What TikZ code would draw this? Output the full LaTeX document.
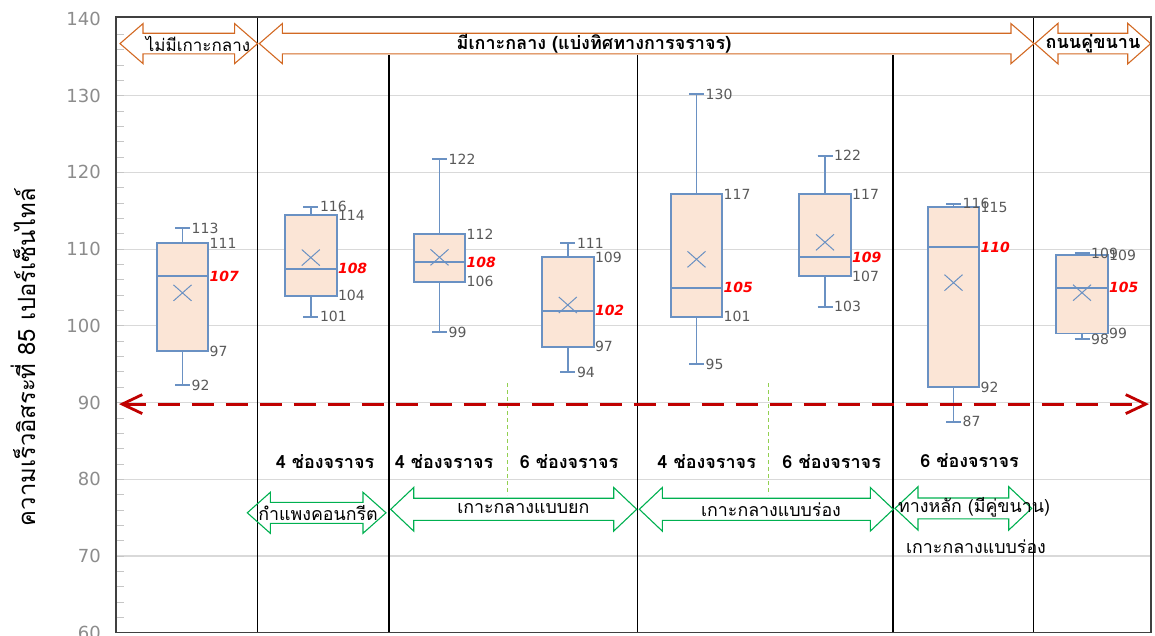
\documentclass[tikz,border=0pt]{standalone}
\usepackage{fontspec}
\setmainfont{DejaVu Sans}
\newfontfamily\thaifont[Script=Thai]{Loma}
\usetikzlibrary{arrows.meta}

\definecolor{boxpeach}{RGB}{251,229,214}
\definecolor{boxblue}{RGB}{106,145,195}
\definecolor{labgray}{RGB}{89,89,89}
\definecolor{tickgray}{RGB}{140,140,140}
\definecolor{gridgray}{RGB}{217,217,217}
\definecolor{framegray}{RGB}{64,64,64}
\definecolor{limitred}{RGB}{192,0,0}
\definecolor{zoneorange}{RGB}{210,105,35}
\definecolor{zonegreen}{RGB}{0,176,80}
\definecolor{splitgreen}{RGB}{146,208,80}

% two-headed block arrow: [style]{left tip x}{right tip x}{centre y}{shaft half}{head half}
\newcommand{\blockarrow}[6][]{%
  \draw[#1] (#2,#4) -- ++(23,-#6) -- ++(0,#6-#5) -- (#3-23,#4-#5) -- ++(0,#5-#6) -- (#3,#4)
    -- ++(-23,#6) -- ++(0,#5-#6) -- (#2+23,#4+#5) -- ++(0,#6-#5) -- cycle;}

\begin{document}
\begin{tikzpicture}[x=1pt, y=-1pt,
    sep/.style={black, line width=1.1pt},
    zone/.style={draw=zoneorange, line width=1.1pt},
    island/.style={draw=zonegreen, line width=1.1pt},
    zonetext/.style={font=\thaifont\fontsize{17.8}{18}\selectfont, inner sep=0pt},
    lanetext/.style={font=\thaifont\bfseries\fontsize{18}{18}\selectfont, inner sep=0pt},
    boxbody/.style={fill=boxpeach, draw=boxblue, line width=1.8pt},
    whisker/.style={draw=boxblue, line width=1.8pt},
    meanmark/.style={draw=boxblue, line width=1pt},
    vallabel/.style={font=\fontsize{14}{14}\selectfont, text=labgray, inner sep=0pt, anchor=west},
    medlabel/.style={vallabel, text=red, font=\fontsize{14}{14}\selectfont\bfseries\itshape},
    ticklabel/.style={font=\fontsize{18}{18}\selectfont, text=tickgray, anchor=east, inner sep=0pt}
]
\useasboundingbox (0,0) rectangle (1155,636);

% value axis: y in km/h
\begin{scope}[y=7.672pt, yshift=-1093.06pt]
\foreach \v in {70,80,...,130}
  \draw[gridgray, line width=1.2pt] (116,\v) -- (1151,\v);
\foreach \v in {62,64,...,138}
  \draw[gray!45, line width=0.8pt] (116,\v) -- (124,\v);
\foreach \v in {60,70,...,140}
  \node[ticklabel] (t\v) at (101,\v) {\v};
\end{scope}

% section dividers
\draw[sep] (257.7,17) -- (257.7,633);
\draw[sep] (389,55) -- (389,633);
\draw[sep] (637.3,55) -- (637.3,633);
\draw[sep] (893,55) -- (893,633);
\draw[sep] (1033.7,17) -- (1033.7,633);
\draw[splitgreen, line width=0.9pt, dash pattern=on 4pt off 3pt] (507.7,383) -- (507.7,495);
\draw[splitgreen, line width=0.9pt, dash pattern=on 4pt off 3pt] (768,383) -- (768,495);

\begin{scope}[y=7.672pt, yshift=-1093.06pt]
\foreach \n/\x/\lo/\qa/\md/\qb/\hi/\mn/\tlo/\tqa/\tmd/\tqb/\thi in {
    1/182.5/92.29/96.72/106.5/110.76/112.72/104.3/92/97/107/111/113,
    2/310.8/101.2/103.93/107.45/114.45/115.53/108.9/101/104/108/114/116,
    3/439.5/99.2/105.76/108.28/111.97/121.71/108.93/99/106/108/112/122,
    4/567.8/93.95/97.28/101.98/108.93/110.76/102.72/94/97/102/109/111,
    5/696.5/94.99/101.2/104.97/117.19/130.22/108.67/95/101/105/117/130,
    6/825/102.5/106.5/108.93/117.19/122.18/110.89/103/107/109/117/122,
    7/953.5/87.5/91.99/110.24/115.45/115.9/105.63/87/92/110/115/116,
    8/1082/98.25/99.0/104.97/109.2/109.46/104.32/98/99/105/109/109} {
  \draw[whisker] (\x,\lo) -- (\x,\qa) (\x,\qb) -- (\x,\hi);
  \draw[whisker] (\x-7.5,\lo) -- (\x+7.5,\lo) (\x-7.5,\hi) -- (\x+7.5,\hi);
  \draw[boxbody] (\x-25.8,\qa) rectangle (\x+25.8,\qb);
  \draw[whisker] (\x-25.8,\md) -- (\x+25.8,\md);
  \draw[meanmark] ([xshift=-9pt,yshift=-8pt]\x,\mn) -- ([xshift=9pt,yshift=8pt]\x,\mn)
                  ([xshift=-9pt,yshift=8pt]\x,\mn) -- ([xshift=9pt,yshift=-8pt]\x,\mn);
  \node[vallabel] (lo\n) at (\x+9,\lo) {\tlo};
  \node[vallabel] (hi\n) at (\x+9,\hi) {\thi};
  \node[vallabel] (qa\n) at (\x+27,\qa) {\tqa};
  \node[vallabel] (qb\n) at (\x+27,\qb) {\tqb};
  \node[medlabel] (md\n) at (\x+27,\md) {\tmd};
}
% 90 km/h line
\coordinate (limL) at (119,89.8);
\coordinate (limR) at (1149,89.8);
\draw[limitred, line width=2.8pt, dash pattern=on 22pt off 12pt,
      {Straight Barb[length=20pt,width=19pt]}-{Straight Barb[length=20pt,width=19pt]}] (limL) -- (limR);
\end{scope}

% median type (top)
\blockarrow[zone]{120}{257.6}{43.6}{10.3}{20}
\blockarrow[zone]{259.3}{1034}{43.6}{10.3}{20}
\blockarrow[zone]{1035}{1150.7}{43.6}{10.3}{20.3}
\node[zonetext, font=\thaifont\fontsize{17}{17}\selectfont] (nozone) at (198,44) {ไม่มีเกาะกลาง};
\node[lanetext] (median) at (594,44) {มีเกาะกลาง (แบ่งทิศทางการจราจร)};
\node[lanetext] (frontage) at (1093,44) {ถนนคู่ขนาน};

% lanes
\node[lanetext] (lane1) at (325,462) {4 ช่องจราจร};
\node[lanetext] (lane2) at (444,462) {4 ช่องจราจร};
\node[lanetext] (lane3) at (569,462) {6 ช่องจราจร};
\node[lanetext] (lane4) at (706.7,462) {4 ช่องจราจร};
\node[lanetext] (lane5) at (831.7,462) {6 ช่องจราจร};
\node[lanetext] (lane6) at (969.5,461) {6 ช่องจราจร};

% island type (bottom)
\blockarrow[island]{247.3}{386}{512.8}{10.5}{20.5}
\blockarrow[island]{390.7}{636.7}{509.3}{11.1}{21.8}
\blockarrow[island]{639.3}{893.3}{509.3}{11.1}{21.8}
\blockarrow[island]{895}{1031.7}{508.4}{10.4}{21.7}
\node[zonetext] (wall) at (318,513) {กำแพงคอนกรีต};
\node[zonetext] (raised) at (523.3,509) {เกาะกลางแบบยก};
\node[zonetext] (sunken) at (771,510) {เกาะกลางแบบร่อง};
\node[zonetext] (mainroad) at (974,507) {ทางหลัก (มีคู่ขนาน)};
\node[zonetext] (sunken2) at (976,547) {เกาะกลางแบบร่อง};

% axis title and frame
\node[font=\thaifont\fontsize{23.8}{24}\selectfont, rotate=90, inner sep=0pt] (ytitle) at (23,357) {ความเร็วอิสระที่ 85 เปอร์เซ็นไทล์};
\draw[framegray, line width=1.8pt] (116,16.7) rectangle (1151,632.4);

\end{tikzpicture}
\end{document}
